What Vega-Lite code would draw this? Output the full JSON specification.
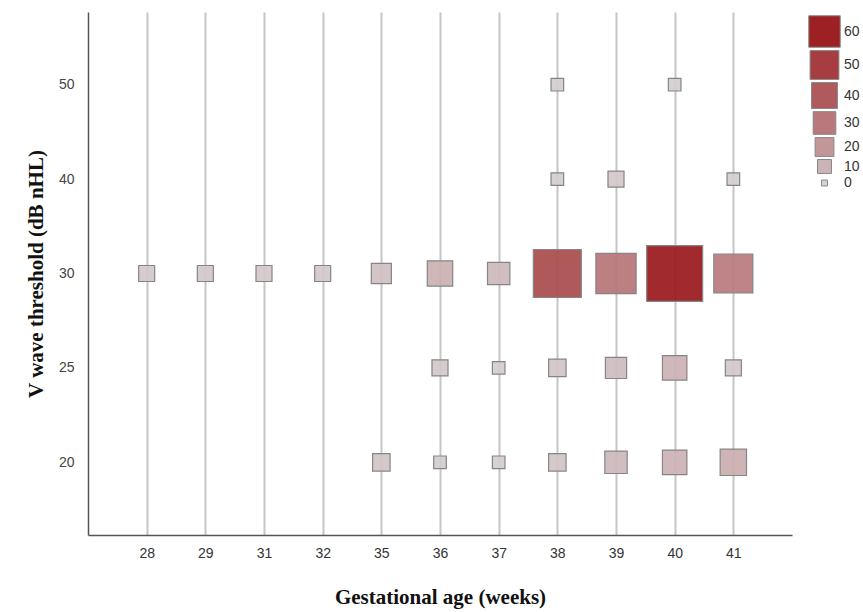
{
  "$schema": "https://vega.github.io/schema/vega-lite/v6.json",
  "autosize": "none",
  "width": 704,
  "height": 523,
  "padding": {"left": 88, "top": 12, "right": 71, "bottom": 77},
  "background": "white",
  "config": {"view": {"stroke": null}},
  "data": {
    "values": [
      {"age": "28", "thr": "30", "n": 3},
      {"age": "29", "thr": "30", "n": 3},
      {"age": "31", "thr": "30", "n": 3},
      {"age": "32", "thr": "30", "n": 3},
      {"age": "35", "thr": "30", "n": 6},
      {"age": "35", "thr": "20", "n": 4},
      {"age": "36", "thr": "30", "n": 11},
      {"age": "36", "thr": "25", "n": 3},
      {"age": "36", "thr": "20", "n": 1},
      {"age": "37", "thr": "30", "n": 8},
      {"age": "37", "thr": "25", "n": 1},
      {"age": "37", "thr": "20", "n": 1},
      {"age": "38", "thr": "50", "n": 1},
      {"age": "38", "thr": "40", "n": 1},
      {"age": "38", "thr": "30", "n": 45},
      {"age": "38", "thr": "25", "n": 4},
      {"age": "38", "thr": "20", "n": 4},
      {"age": "39", "thr": "40", "n": 3},
      {"age": "39", "thr": "30", "n": 31},
      {"age": "39", "thr": "25", "n": 7},
      {"age": "39", "thr": "20", "n": 8},
      {"age": "40", "thr": "50", "n": 1},
      {"age": "40", "thr": "30", "n": 62},
      {"age": "40", "thr": "25", "n": 10},
      {"age": "40", "thr": "20", "n": 10},
      {"age": "41", "thr": "40", "n": 1},
      {"age": "41", "thr": "30", "n": 29},
      {"age": "41", "thr": "25", "n": 3},
      {"age": "41", "thr": "20", "n": 12}
    ]
  },
  "mark": {
    "type": "point",
    "shape": "M-1.75,-1.75H1.75V1.75H-1.75Z",
    "filled": true,
    "opacity": 1,
    "fillOpacity": 0.93,
    "stroke": "#858585",
    "strokeWidth": 1.2
  },
  "encoding": {
    "x": {
      "field": "age",
      "type": "ordinal",
      "sort": ["28", "29", "31", "32", "35", "36", "37", "38", "39", "40", "41"],
      "scale": {"type": "point", "padding": 1.1},
      "axis": {
        "title": "Gestational age (weeks)",
        "titleFont": "Liberation Serif",
        "titleFontSize": 21,
        "titleFontWeight": "bold",
        "titleColor": "#111",
        "titlePadding": 26,
        "labelFont": "Liberation Sans Narrow, Liberation Sans",
        "labelFontSize": 14,
        "labelColor": "#333",
        "labelPadding": 11,
        "labelAngle": 0,
        "ticks": false,
        "grid": true,
        "gridColor": "#c6c6c6",
        "gridWidth": 2,
        "domainColor": "#555",
        "domainWidth": 1.5
      }
    },
    "y": {
      "field": "thr",
      "type": "ordinal",
      "sort": ["50", "40", "30", "25", "20"],
      "scale": {"type": "point", "padding": 0.77},
      "axis": {
        "title": "V wave threshold (dB nHL)",
        "titleFont": "Liberation Serif",
        "titleFontSize": 21,
        "titleFontWeight": "bold",
        "titleColor": "#111",
        "titlePadding": 12,
        "labelFont": "Liberation Sans",
        "labelFontSize": 14,
        "labelColor": "#444",
        "labelPadding": 14,
        "ticks": false,
        "grid": false,
        "domainColor": "#555",
        "domainWidth": 1.5
      }
    },
    "size": {
      "field": "n",
      "type": "quantitative",
      "scale": {"domain": [0, 62], "range": [36, 1022], "zero": false},
      "legend": {
        "title": null,
        "values": [60, 50, 40, 30, 20, 10, 0],
        "orient": "none",
        "legendX": 720,
        "legendY": 3,
        "symbolType": "square",
        "symbolStrokeColor": "#888",
        "symbolStrokeWidth": 1,
        "labelFont": "Liberation Sans",
        "labelFontSize": 14,
        "labelColor": "#333",
        "labelOffset": 3,
        "rowPadding": -2
      }
    },
    "color": {
      "field": "n",
      "type": "quantitative",
      "scale": {"domain": [0, 62], "range": ["#d6d1d2", "#9a1a1e"], "interpolate": "rgb"},
      "legend": {
        "title": null,
        "values": [60, 50, 40, 30, 20, 10, 0],
        "orient": "none",
        "legendX": 720,
        "legendY": 3,
        "symbolType": "square",
        "symbolStrokeColor": "#888",
        "symbolStrokeWidth": 1,
        "labelFont": "Liberation Sans",
        "labelFontSize": 14,
        "labelColor": "#333",
        "labelOffset": 3,
        "rowPadding": -2
      }
    }
  }
}
